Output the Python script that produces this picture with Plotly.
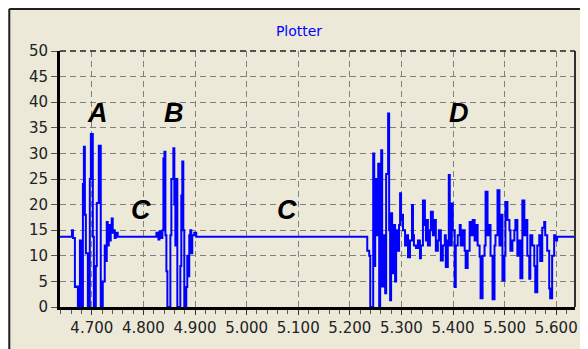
import plotly.graph_objects as go

# ---------------- data ----------------
baseline = 13.7

burst_a_t = [4.6576, 4.6615, 4.6634, 4.6672, 4.6711, 4.6730, 4.6769, 4.6807, 4.6827, 4.6846,
             4.6865, 4.6884, 4.6923, 4.6961, 4.6981, 4.7019, 4.7039, 4.7077, 4.7096, 4.7135,
             4.7173, 4.7212, 4.7250, 4.7270, 4.7289, 4.7308, 4.7328, 4.7347, 4.7366, 4.7385,
             4.7405, 4.7424, 4.7443, 4.7462, 4.7501]
burst_a_v = [13.7, 15.0, 13.5, 3.9, 4.0, 0.0, 13.0, 0.0, 24.0, 31.3,
             18.0, 10.5, 0.0, 25.0, 33.8, 13.7, 0.0, 8.0, 20.3, 31.5,
             0.0, 5.0, 12.0, 9.0, 16.6, 12.0, 16.0, 13.0, 15.5, 17.3,
             14.5, 15.0, 13.5, 14.5, 13.7]

burst_b_t = [4.8214, 4.8252, 4.8291, 4.8310, 4.8349, 4.8368, 4.8387, 4.8407, 4.8426, 4.8445,
             4.8464, 4.8503, 4.8522, 4.8541, 4.8580, 4.8599, 4.8619, 4.8638, 4.8657, 4.8696,
             4.8715, 4.8734, 4.8753, 4.8773, 4.8792, 4.8830, 4.8850, 4.8869, 4.8888, 4.8908,
             4.8927, 4.8946, 4.8985, 4.9023]
burst_b_v = [13.7, 14.5, 13.2, 14.8, 13.5, 15.0, 29.0, 30.3, 14.0, 7.0,
             0.0, 0.0, 14.0, 25.0, 31.0, 20.0, 12.0, 25.0, 0.0, 0.0,
             8.0, 21.8, 28.4, 15.0, 0.0, 3.9, 10.0, 6.0, 14.0, 15.0,
             10.5, 14.0, 14.5, 13.7]

burst_d_t = [5.2280, 5.2319, 5.2338, 5.2376, 5.2396, 5.2434, 5.2453, 5.2473, 5.2492, 5.2511,
             5.2550, 5.2569, 5.2588, 5.2608, 5.2627, 5.2665, 5.2685, 5.2704, 5.2742, 5.2762,
             5.2781, 5.2800, 5.2820, 5.2858, 5.2877, 5.2897, 5.2916, 5.2954, 5.2974, 5.2993,
             5.3012, 5.3031, 5.3070, 5.3089, 5.3128, 5.3166, 5.3205, 5.3224, 5.3243, 5.3282,
             5.3320, 5.3359, 5.3378, 5.3417, 5.3455, 5.3475, 5.3494, 5.3513, 5.3552, 5.3571,
             5.3609, 5.3648, 5.3667, 5.3706, 5.3725, 5.3764, 5.3802, 5.3841, 5.3860, 5.3899,
             5.3918, 5.3937, 5.3976, 5.3995, 5.4033, 5.4053, 5.4091, 5.4130, 5.4149, 5.4188,
             5.4226, 5.4245, 5.4284, 5.4322, 5.4342, 5.4380, 5.4419, 5.4438, 5.4477, 5.4515,
             5.4534, 5.4573, 5.4611, 5.4631, 5.4669, 5.4708, 5.4727, 5.4766, 5.4804, 5.4823,
             5.4862, 5.4900, 5.4920, 5.4958, 5.4997, 5.5016, 5.5055, 5.5093, 5.5112, 5.5151,
             5.5189, 5.5209, 5.5247, 5.5286, 5.5305, 5.5344, 5.5382, 5.5401, 5.5440, 5.5478,
             5.5498, 5.5536, 5.5575, 5.5594, 5.5633, 5.5671, 5.5690, 5.5729, 5.5767, 5.5787,
             5.5825, 5.5864, 5.5883, 5.5921, 5.5960, 5.5979, 5.6018]
burst_d_v = [13.7, 13.7, 11.0, 10.0, 0.0, 0.0, 30.0, 8.0, 25.0, 14.0,
             28.0, 0.0, 12.0, 30.6, 4.0, 14.0, 2.7, 26.0, 37.8, 15.0,
             1.3, 18.3, 6.6, 16.0, 5.0, 15.0, 11.0, 16.0, 22.2, 17.0,
             18.0, 15.0, 12.0, 14.0, 9.7, 13.0, 19.9, 14.0, 12.0, 11.5,
             13.0, 9.5, 12.0, 20.8, 16.0, 13.0, 17.0, 12.0, 15.0, 18.6,
             14.0, 17.0, 11.0, 13.0, 15.0, 9.1, 12.0, 14.0, 7.8, 13.0,
             25.8, 12.0, 20.2, 15.0, 3.9, 12.0, 14.0, 16.0, 12.0, 15.0,
             11.0, 7.6, 11.0, 16.6, 14.0, 17.0, 13.0, 16.0, 12.0, 9.8,
             1.7, 10.0, 12.0, 22.5, 14.0, 16.0, 10.0, 1.5, 12.0, 14.0,
             22.8, 12.0, 18.0, 5.2, 10.0, 20.5, 17.0, 15.0, 11.0, 13.0,
             15.0, 17.0, 10.0, 13.0, 5.6, 20.8, 14.0, 17.0, 10.0, 5.5,
             14.0, 12.0, 8.0, 2.9, 12.0, 14.0, 9.0, 15.5, 16.6, 14.0,
             11.0, 3.6, 1.7, 10.0, 14.0, 13.0, 13.7]

signal_start = 4.60
signal_end = 5.70

x_tick_vals = [4.7, 4.8, 4.9, 5.0, 5.1, 5.2, 5.3, 5.4, 5.5, 5.6]
x_tick_text = ["4.700", "4.800", "4.900", "5.000", "5.100", "5.200", "5.300", "5.400", "5.500", "5.600"]
y_tick_vals = [0, 5, 10, 15, 20, 25, 30, 35, 40, 45, 50]

label_text = ["A", "B", "C", "C", "D"]
label_x = [4.7116, 4.8600, 4.7944, 5.0777, 5.4110]
label_y = [37.8, 37.8, 19.0, 19.0, 37.9]

# ---------------- build series ----------------
t_all = [signal_start] + burst_a_t + burst_b_t + burst_d_t + [signal_end]
v_all = [baseline] + burst_a_v + burst_b_v + burst_d_v + [baseline]

BG = "#ECE9D8"
W, H = 580, 341
ML, MR, MT, MB = 52, 10, 43, 42
PW, PH = W - ML - MR, H - MT - MB

fig = go.Figure()
fig.add_trace(go.Scatter(x=t_all, y=v_all, mode="lines", line=dict(color="#0000FF", width=2, shape="hv"),
                         hoverinfo="skip", showlegend=False))

for txt, lx, ly in zip(label_text, label_x, label_y):
    fig.add_annotation(x=lx, y=ly, text="<b><i>%s</i></b>" % txt, showarrow=False,
                       font=dict(family="Liberation Sans", size=27, color="black"))

top_edge = 1 + (MT - 1) / PH
left_edge = -(ML - 1) / PW
shapes = [
    dict(type="line", xref="paper", yref="paper", x0=left_edge, x1=1 + MR / PW, y0=top_edge, y1=top_edge,
         line=dict(color="#202020", width=2), layer="above"),
    dict(type="line", xref="paper", yref="paper", x0=left_edge, x1=left_edge, y0=-MB / PH, y1=top_edge,
         line=dict(color="#202020", width=2), layer="above"),
    dict(type="line", xref="paper", yref="paper", x0=1, x1=1, y0=0, y1=1,
         line=dict(color="#303030", width=2), layer="above"),
    dict(type="line", xref="paper", yref="paper", x0=0, x1=1, y0=1, y1=1,
         line=dict(color="#202020", width=1.5, dash="6px,4px"), layer="above"),
]

fig.update_layout(
    width=W, height=H,
    margin=dict(l=ML, r=MR, t=MT, b=MB),
    paper_bgcolor=BG, plot_bgcolor=BG,
    title=dict(text="Plotter", x=291 / W, xref="container", xanchor="center",
               y=1 - 23 / H, yref="container", yanchor="middle",
               font=dict(family="DejaVu Sans", size=14, color="#0000FF")),
    font=dict(family="DejaVu Sans", size=15, color="#222222"),
    shapes=shapes,
    xaxis=dict(range=[4.6383, 5.6364], tickvals=x_tick_vals, ticktext=x_tick_text,
               showgrid=True, gridcolor="#808080", gridwidth=1, griddash="6px,4px",
               showline=True, linecolor="black", linewidth=3,
               ticks="outside", ticklen=5, tickcolor="#333333", tickwidth=1,
               minor=dict(dtick=0.02, tick0=4.7, ticks="outside", ticklen=4, tickcolor="#555555", showgrid=False),
               zeroline=False, fixedrange=True),
    yaxis=dict(range=[0, 50], tickvals=y_tick_vals,
               showgrid=True, gridcolor="#808080", gridwidth=1, griddash="6px,4px",
               showline=True, linecolor="black", linewidth=3,
               ticks="outside", ticklen=6, tickcolor="#555555", tickwidth=1,
               zeroline=False, fixedrange=True),
)

fig.write_html("out.html")
